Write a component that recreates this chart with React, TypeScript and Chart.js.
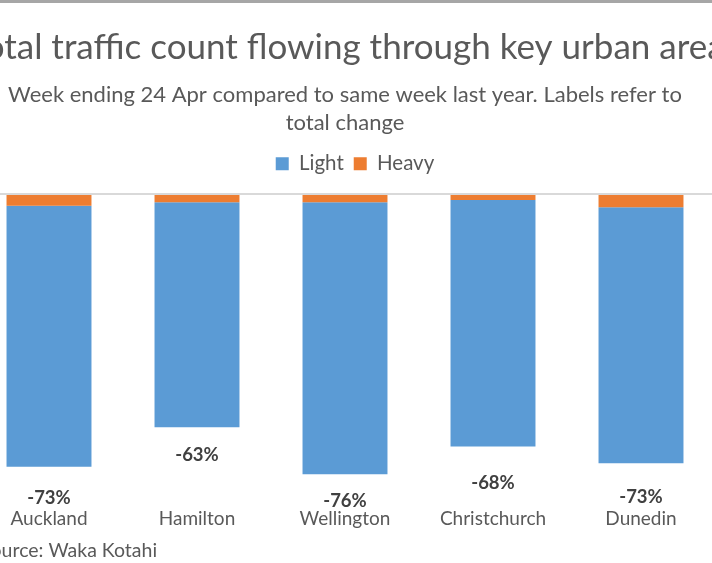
import React, { useEffect, useRef } from "react";
import { Chart, registerables } from "chart.js";

Chart.register(...registerables);

const categories = ["Auckland", "Hamilton", "Wellington", "Christchurch", "Dunedin"];
const lightValues = [-70.5, -60.8, -73.5, -66.6, -69.1];
const heavyValues = [-3.2, -2.2, -2.2, -1.6, -3.6];
const totalChange = [-73, -63, -76, -68, -73];
// invisible label series (where each total label sits, in % units)
const labelAnchor = [-82.0, -70.4, -82.9, -78.1, -81.9];

const titleText = "Total traffic count flowing through key urban areas";
const subtitleLines = [
  "Week ending 24 Apr compared to same week last year. Labels refer to",
  "total change",
];
const sourceText = "Source: Waka Kotahi";

const FONT = "Lato, 'Noto Sans', sans-serif";

export default function App() {
  const ref = useRef<HTMLCanvasElement>(null);

  useEffect(() => {
    document.body.style.margin = "0";
    const canvas = ref.current;
    if (!canvas) return;

    const labelPlugin = {
      id: "totals",
      afterDatasetsDraw(chart: any) {
        const { ctx } = chart;
        const meta = chart.getDatasetMeta(0);
        const y = chart.scales.y;
        ctx.save();
        ctx.font = `bold 18.5px ${FONT}`;
        ctx.fillStyle = "#404040";
        ctx.textAlign = "center";
        ctx.textBaseline = "middle";
        meta.data.forEach((bar: any, i: number) => {
          ctx.fillText(`${totalChange[i]}%`, bar.x, y.getPixelForValue(labelAnchor[i]));
        });
        ctx.restore();
      },
      afterDraw(chart: any) {
        const { ctx } = chart;
        ctx.save();
        ctx.font = `19.5px ${FONT}`;
        ctx.fillStyle = "#595959";
        ctx.textAlign = "left";
        ctx.textBaseline = "alphabetic";
        ctx.fillText(sourceText, 10, 557);
        ctx.restore();
      },
    };

    const boxShift = {
      id: "boxShift",
      afterLayout(chart: any) {
        if (chart.legend) {
          chart.legend.left += 10;
          chart.legend.right += 10;
        }
        if (chart.titleBlock) {
          // the original title is wider than the visible area; let it overflow unclipped
          chart.titleBlock.left = -16;
          chart.titleBlock.right = 784;
          chart.titleBlock.width = 800;
        }
      },
    };

    const chart = new Chart(canvas, {
      type: "bar",
      data: {
        labels: categories,
        datasets: [
          {
            label: "Heavy",
            data: heavyValues,
            backgroundColor: "#ED7D31",
            borderWidth: 0,
            barPercentage: 0.574,
            categoryPercentage: 1,
            stack: "s",
          },
          {
            label: "Light",
            data: lightValues,
            backgroundColor: "#5B9BD5",
            borderWidth: 0,
            barPercentage: 0.574,
            categoryPercentage: 1,
            stack: "s",
          },
        ],
      },
      options: {
        responsive: false,
        animation: false,
        events: [],
        layout: { padding: { left: 5, right: 5, top: 0, bottom: 33 } },
        plugins: {
          title: {
            display: true,
            text: titleText,
            color: "#595959",
            font: { family: FONT, size: 35, weight: "normal", lineHeight: 42 / 35 },
            padding: { top: 27, bottom: 12 },
          },
          subtitle: {
            display: true,
            text: subtitleLines,
            color: "#595959",
            font: { family: FONT, size: 22, weight: "normal", lineHeight: 28 / 22 },
            padding: { top: 0, bottom: 6.5 },
          },
          legend: {
            display: true,
            position: "top",
            labels: {
              color: "#595959",
              font: { family: FONT, size: 20.5 },
              boxWidth: 13,
              boxHeight: 13,
              padding: 10,
              sort: (a: any, b: any) => b.datasetIndex - a.datasetIndex,
            },
          },
          tooltip: { enabled: false },
        },
        scales: {
          x: {
            stacked: true,
            grid: { display: false, drawTicks: false },
            border: { display: false },
            ticks: {
              color: "#595959",
              font: { family: FONT, size: 19 },
              padding: 0,
              maxRotation: 0,
              autoSkip: false,
            },
          },
          y: {
            stacked: true,
            min: -84.6,
            max: 2.7,
            z: 1,
            ticks: { display: false, stepSize: 0.1 },
            grid: {
              drawTicks: false,
              lineWidth: 2,
              color: (ctx: any) =>
                ctx.tick && Math.abs(ctx.tick.value) < 1e-6 ? "#D9D9D9" : "rgba(0,0,0,0)",
            },
            border: { display: false },
          },
        },
      },
      plugins: [labelPlugin, boxShift],
    });

    return () => chart.destroy();
  }, []);

  return (
    <div
      style={{
        position: "fixed",
        left: 0,
        top: 0,
        width: 712,
        height: 563,
        overflow: "hidden",
        background: "#ffffff",
      }}
    >
      <canvas
        ref={ref}
        width={750}
        height={563}
        style={{ position: "absolute", left: -30, top: 0, width: 750, height: 563 }}
      />
      <div
        style={{
          position: "absolute",
          left: 0,
          top: 0,
          width: 712,
          height: 3,
          background: "#A6A6A6",
        }}
      />
    </div>
  );
}
